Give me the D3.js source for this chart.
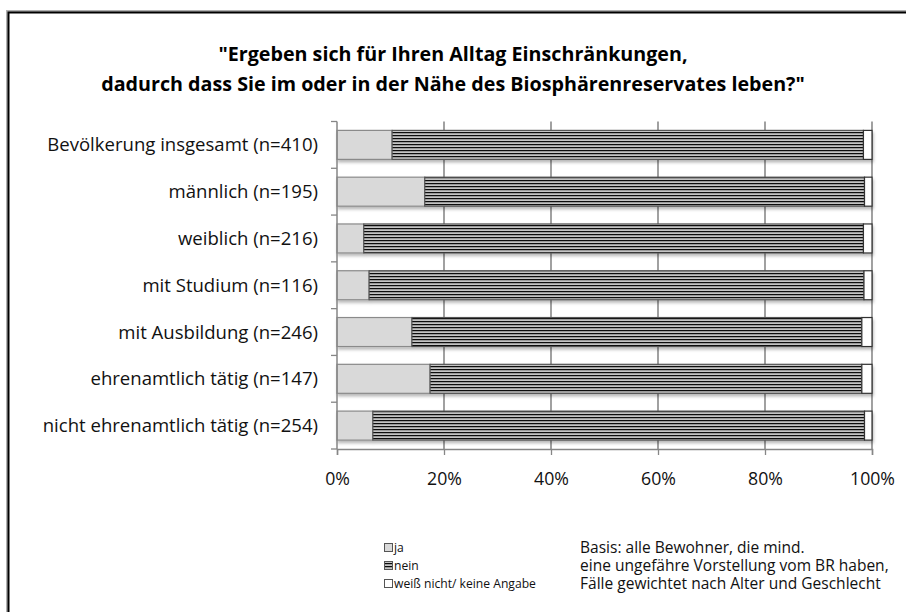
<!DOCTYPE html>
<html>
<head>
<meta charset="utf-8">
<script src="https://cdn.jsdelivr.net/npm/d3@7"></script>
<style>
  html, body { margin: 0; padding: 0; background: #fff; overflow: hidden; }
  svg { display: block; }
  text { font-family: "Open Sans", Lato, sans-serif; }
</style>
</head>
<body>
<svg id="chart" width="906" height="612"></svg>
<script>
// Survey groups (top to bottom)
const categories = [
  "Bevölkerung insgesamt (n=410)",
  "männlich (n=195)",
  "weiblich (n=216)",
  "mit Studium (n=116)",
  "mit Ausbildung (n=246)",
  "ehrenamtlich tätig (n=147)",
  "nicht ehrenamtlich tätig (n=254)"
];
// Shares in percent per answer
const ja    = [10.3, 16.4, 5.0, 6.0, 14.0, 17.4, 6.7];
const nein  = [88.1, 82.2, 93.4, 92.5, 84.1, 80.7, 91.9];
const weissNicht = [1.6, 1.4, 1.6, 1.5, 1.9, 1.9, 1.4];
const seriesNames = ["ja", "nein", "weiß nicht/ keine Angabe"];
const tickValues = [0, 20, 40, 60, 80, 100];
const titleLines = [
  "\"Ergeben sich für Ihren Alltag Einschränkungen,",
  "dadurch dass Sie im oder in der Nähe des Biosphärenreservates leben?\""
];
const noteLines = [
  "Basis: alle Bewohner, die mind.",
  "eine ungefähre Vorstellung vom BR haben,",
  "Fälle gewichtet nach Alter und Geschlecht"
];

const svg = d3.select("#chart");
const defs = svg.append("defs");

// font size that makes a sample string span the given width
function fitSize(sample, width, weight) {
  const t = svg.append("text").attr("font-size", 20)
    .attr("font-weight", weight || "normal").text(sample);
  const w = t.node().getComputedTextLength();
  t.remove();
  return 20 * width / w;
}
const titleSize = fitSize(titleLines[1], 704, "bold");
const labelSize = fitSize(categories[0], 271);
const noteSize = fitSize(noteLines[2], 301);
const legendSize = fitSize(seriesNames[2], 142);
const tickSize = fitSize("100%", 45);

// narrow horizontal stripe pattern for "nein"
const pat = defs.append("pattern")
  .attr("id", "stripes").attr("patternUnits", "userSpaceOnUse")
  .attr("width", 4).attr("height", 3);
pat.append("rect").attr("width", 4).attr("height", 3).attr("fill", "#c4c4c4");
pat.append("rect").attr("y", 1).attr("width", 4).attr("height", 1).attr("fill", "#9a9a9a");
pat.append("rect").attr("y", 0).attr("width", 4).attr("height", 1).attr("fill", "#0a0a0a");

const shadow = defs.append("filter").attr("id", "shadow")
  .attr("x", "-5%").attr("y", "-20%").attr("width", "110%").attr("height", "160%");
shadow.append("feDropShadow").attr("dx", 1).attr("dy", 2.5)
  .attr("stdDeviation", 1.5).attr("flood-color", "#000").attr("flood-opacity", 0.28);

// outer frame
svg.append("rect").attr("x", 7).attr("y", 11).attr("width", 940).attr("height", 640)
  .attr("fill", "none").attr("stroke", "#b0b0b0").attr("stroke-width", 2);
svg.append("rect").attr("x", 8.5).attr("y", 12.5).attr("width", 940).attr("height", 640)
  .attr("fill", "none").attr("stroke", "#000").attr("stroke-width", 2);

// title
svg.append("g").selectAll("text").data(titleLines).join("text")
  .attr("x", 453).attr("y", (d, i) => 61 + i * 30)
  .attr("text-anchor", "middle")
  .attr("font-size", titleSize).attr("font-weight", "bold").attr("fill", "#000")
  .text(d => d);

const plotLeft = 337, plotRight = 872, plotTop = 121.5, plotBottom = 449;
const x = d3.scaleLinear().domain([0, 100]).range([plotLeft, plotRight]);
const y = d3.scaleBand().domain(categories).range([plotTop, plotBottom]).paddingInner(0.38).paddingOuter(0.19);

// vertical gridlines
svg.append("g").selectAll("line").data(tickValues.slice(1)).join("line")
  .attr("x1", d => x(d)).attr("x2", d => x(d))
  .attr("y1", plotTop).attr("y2", plotBottom)
  .attr("stroke", "#6e6e6e").attr("stroke-width", 1.3);

// stacked bars
const stackData = categories.map((c, i) => ({ cat: c, ja: ja[i], nein: nein[i], wn: weissNicht[i] }));
const stack = d3.stack().keys(["ja", "nein", "wn"])(stackData);
const fills = { ja: "#d9d9d9", nein: "url(#stripes)", wn: "#ffffff" };
const strokes = { ja: "#8a8a8a", nein: "#555", wn: "#333" };

const barG = svg.append("g").attr("filter", "url(#shadow)");
stack.forEach(layer => {
  barG.append("g").selectAll("rect").data(layer).join("rect")
    .attr("x", d => x(d[0]))
    .attr("width", d => x(d[1]) - x(d[0]))
    .attr("y", d => y(d.data.cat))
    .attr("height", y.bandwidth())
    .attr("fill", fills[layer.key])
    .attr("stroke", strokes[layer.key])
    .attr("stroke-width", 1.2);
});

// y axis
const yAxis = svg.append("g").attr("transform", `translate(${plotLeft},0)`);
yAxis.append("line").attr("x1", 0).attr("x2", 0).attr("y1", plotTop).attr("y2", plotBottom)
  .attr("stroke", "#868686").attr("stroke-width", 1.5);
const bounds = d3.range(categories.length + 1).map(i => plotTop + i * y.step());
yAxis.selectAll("line.tk").data(bounds).join("line").attr("class", "tk")
  .attr("x1", -6).attr("x2", 0).attr("y1", d => d).attr("y2", d => d)
  .attr("stroke", "#868686").attr("stroke-width", 1.3);
yAxis.selectAll("text").data(categories).join("text")
  .attr("x", -19).attr("y", d => y(d) + y.bandwidth() / 2)
  .attr("dy", "0.35em").attr("text-anchor", "end")
  .attr("font-size", labelSize).attr("fill", "#111")
  .text(d => d);

// x axis
const xAxis = svg.append("g").attr("transform", `translate(0,${plotBottom})`)
  .call(d3.axisBottom(x).tickValues(tickValues).tickFormat(d => d + "%").tickSize(6).tickPadding(17));
xAxis.select(".domain").attr("stroke", "#868686").attr("stroke-width", 1.5);
xAxis.selectAll(".tick line").attr("stroke", "#868686").attr("stroke-width", 1.3);
xAxis.selectAll(".tick text").attr("font-size", tickSize).attr("fill", "#111")
  .attr("font-family", "'Open Sans', Lato, sans-serif");

// legend
const legend = svg.append("g").attr("transform", "translate(384,548)");
const legendFills = ["#d9d9d9", "url(#stripes)", "#ffffff"];
const leg = legend.selectAll("g").data(seriesNames).join("g")
  .attr("transform", (d, i) => `translate(0,${i * 18})`);
leg.append("rect").attr("x", 0.5).attr("y", -4.5).attr("width", 8).attr("height", 8)
  .attr("fill", (d, i) => legendFills[i]).attr("stroke", "#555").attr("stroke-width", 1);
leg.append("text").attr("x", 10).attr("y", 0).attr("dy", "0.35em")
  .attr("font-size", legendSize).attr("fill", "#111").text(d => d);

// note
svg.append("g").selectAll("text").data(noteLines).join("text")
  .attr("x", 580).attr("y", (d, i) => 548 + i * 18).attr("dy", "0.35em")
  .attr("font-size", noteSize).attr("fill", "#111").text(d => d);
</script>
</body>
</html>
